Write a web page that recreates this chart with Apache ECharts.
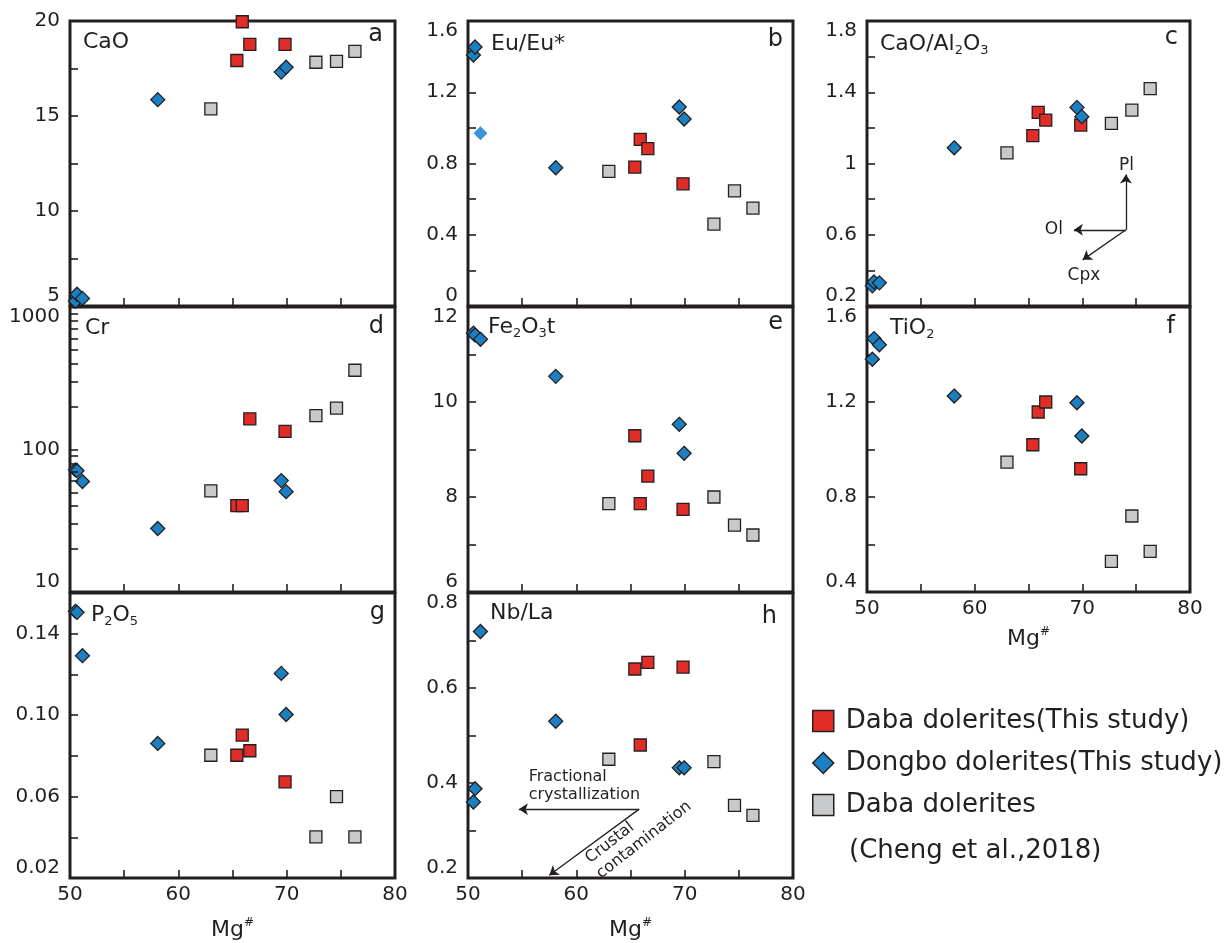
<!DOCTYPE html>
<html><head><meta charset="utf-8">
<script src="https://cdn.jsdelivr.net/npm/echarts@6/dist/echarts.min.js"></script>
<style>html,body{margin:0;padding:0;background:#fff}#c{width:1225px;height:943px}</style>
</head><body><div id="c"></div>
<script>
// ---------------- data ----------------
const NAME_DABA = 'Daba dolerites(This study)';
const NAME_DONGBO = 'Dongbo dolerites(This study)';
const NAME_CHENG = 'Daba dolerites (Cheng et al.,2018)';

// Mg# of the samples (x values)
const mgDaba   = [65.4, 65.9, 66.6, 69.85];
const mgDongbo = [50.5, 50.65, 51.15, 58.1, 69.5, 69.95];
const mgCheng  = [63.0, 72.7, 74.6, 76.3];

// a: CaO
const caoDaba   = [17.92, 19.96, 18.77, 18.77];
const caoDongbo = [5.25, 5.62, 5.4, 15.86, 17.31, 17.57];
const caoCheng  = [15.37, 17.83, 17.87, 18.4];
// b: Eu/Eu*
const euDaba   = [0.78, 0.936, 0.884, 0.686];
const euDongbo = [1.409, 1.454, 0.97, 0.776, 1.117, 1.05];
const euCheng  = [0.756, 0.46, 0.646, 0.55];
// c: CaO/Al2O3
const caAlDaba   = [1.156, 1.287, 1.244, 1.216];
const caAlDongbo = [0.313, 0.335, 0.33, 1.088, 1.315, 1.263];
const caAlCheng  = [1.06, 1.225, 1.30, 1.42];
// d: Cr (log scale)
const crDaba   = [40.4, 40.4, 164, 134];
const crDongbo = [72, 71, 59.6, 27.9, 60.5, 50.6];
const crCheng  = [51.2, 173, 195, 360];
const crMinorTicks = [20, 30, 40, 50, 60, 70, 80, 90, 200, 300, 400, 500, 600, 700, 800, 900];
// e: Fe2O3t
const feDaba   = [9.29, 7.86, 8.44, 7.74];
const feDongbo = [11.45, 11.41, 11.32, 10.54, 9.53, 8.92];
const feCheng  = [7.86, 8.0, 7.41, 7.20];
// f: TiO2
const tiDaba   = [1.02, 1.158, 1.2, 0.919];
const tiDongbo = [1.38, 1.467, 1.441, 1.225, 1.197, 1.057];
const tiCheng  = [0.947, 0.529, 0.72, 0.571];
// g: P2O5
const pDaba   = [0.0803, 0.0902, 0.0825, 0.0672];
const pDongbo = [0.151, 0.1505, 0.1292, 0.0861, 0.1205, 0.1003];
const pCheng  = [0.0803, 0.0402, 0.060, 0.0402];
// h: Nb/La
const nbDaba   = [0.64, 0.48, 0.654, 0.644];
const nbDongbo = [0.36, 0.388, 0.719, 0.53, 0.432, 0.432];
const nbCheng  = [0.45, 0.445, 0.353, 0.332];

// annotation arrows (data units) and their labels
const arrowsC = [
  [[74.05, 0.628], [74.05, 0.938]],
  [[74.05, 0.628], [69.22, 0.628]],
  [[74.05, 0.628], [70.03, 0.459]]
];
const labelsC = [['Pl', 74.1, 0.989], ['Ol', 67.36, 0.628], ['Cpx', 70.15, 0.369]];
const arrowsH = [
  [[65.8, 0.345], [54.7, 0.345]],
  [[65.8, 0.345], [57.5, 0.206]]
];
const labelsH = [
  ['Fractional', 55.6, 0.413, 0, 'left'],
  ['crystallization', 55.6, 0.375, 0, 'left'],
  ['Crustal', 63.1, 0.274, 38, 'center'],
  ['contamination', 66.25, 0.28, 38, 'center']
];

// ---------------- styling / layout ----------------
const ink = '#231f20';
const FONT = "'DejaVu Sans', sans-serif";
const RED = '#e22c27', BLUE = '#1b80c2', GRAY = '#c8c9cb', LIGHTBLUE = '#3a93d6';

const cols = [{left: 70, width: 325}, {left: 468, width: 325}, {left: 867, width: 323}];
const rows = [{top: 21, height: 285}, {top: 307, height: 285}, {top: 593, height: 285}];

const fmt1 = v => String(+v.toFixed(1));
const panels = [
  {col:0,row:0,title:'{m|CaO}',tx:13,ty:21,letter:'a',lx:12,ly:14,type:'value',min:5,max:20,interval:5,minor:2,fmt:v=>String(v),maxAlign:'middle',
   vals:[caoDaba,caoDongbo,caoCheng]},
  {col:1,row:0,title:'{m|Eu/Eu*}',tx:23,ty:23,letter:'b',lx:10,ly:19,type:'value',min:0,max:1.6,interval:0.4,minor:2,fmt:fmt1,
   vals:[euDaba,euDongbo,euCheng],light:2},
  {col:2,row:0,title:'{m|CaO/Al}{s|2}{m|O}{s|3}',tx:13,ty:23,letter:'c',lx:12,ly:17,type:'value',min:0.2,max:1.8,interval:0.2,minor:0,
   fmt:v=>(Math.round((v-0.2)/0.2)%2===0?fmt1(v):''),vals:[caAlDaba,caAlDongbo,caAlCheng],arrows:arrowsC,labels:labelsC,lfs:17},
  {col:0,row:1,title:'{m|Cr}',tx:15,ty:21,letter:'d',lx:11,ly:20,type:'log',min:10,max:1000,fmt:v=>String(v),
   vals:[crDaba,crDongbo,crCheng],logTicks:crMinorTicks},
  {col:1,row:1,title:'{m|Fe}{s|2}{m|O}{s|3}{m|t}',tx:20,ty:20,letter:'e',lx:10,ly:16,type:'value',min:6,max:12,interval:2,minor:2,fmt:v=>String(v),
   vals:[feDaba,feDongbo,feCheng]},
  {col:2,row:1,title:'{m|TiO}{s|2}',tx:23,ty:21,letter:'f',lx:15,ly:20,type:'value',min:0.4,max:1.6,interval:0.4,minor:2,fmt:fmt1,
   vals:[tiDaba,tiDongbo,tiCheng],bottom:true,nameGap:34},
  {col:0,row:2,title:'{m|P}{s|2}{m|O}{s|5}',tx:21,ty:22,letter:'g',lx:10,ly:20,type:'value',min:0.02,max:0.16,interval:0.02,minor:0,
   fmt:v=>(Math.round((v-0.02)/0.02)%2===0?v.toFixed(2):''),vals:[pDaba,pDongbo,pCheng],bottom:true,nameGap:39},
  {col:1,row:2,title:'{m|Nb/La}',tx:22,ty:20,letter:'h',lx:16,ly:24,type:'value',min:0.2,max:0.8,interval:0.2,minor:2,fmt:fmt1,
   vals:[nbDaba,nbDongbo,nbCheng],bottom:true,nameGap:39,arrows:arrowsH,labels:labelsH,lfs:16}
];

const tickStyle = {color: ink, width: 1.6};
const grids = [], xAxes = [], yAxes = [], series = [], graphics = [];

panels.forEach((p, i) => {
  const c = cols[p.col], r = rows[p.row];
  grids.push({left: c.left, top: r.top, width: c.width, height: r.height, show: true,
    borderColor: ink, borderWidth: 3, backgroundColor: 'transparent', containLabel: false, outerBoundsMode: 'none'});
  xAxes.push({gridIndex: i, type: 'value', min: 50, max: 80, interval: 10,
    axisLine: {show: false}, splitLine: {show: false},
    axisTick: {show: true, inside: true, length: 8, lineStyle: tickStyle},
    minorTick: {show: true, splitNumber: 2, length: 8, lineStyle: tickStyle},
    axisLabel: {show: !!p.bottom, margin: 7, fontFamily: FONT, fontSize: 20, color: ink},
    name: p.bottom ? '{m|Mg}{p|#}' : '', nameLocation: 'middle', nameGap: p.nameGap || 34,
    nameTextStyle: {rich: {m: {fontFamily: FONT, fontSize: 22, color: ink, lineHeight: 26},
                           p: {fontFamily: FONT, fontSize: 12, color: ink, lineHeight: 12, verticalAlign: 'top'}}}
  });
  const y = {gridIndex: i, type: p.type, min: p.min, max: p.max,
    axisLine: {show: false}, splitLine: {show: false},
    axisTick: {show: true, inside: true, length: 8, lineStyle: tickStyle},
    axisLabel: {margin: 10, fontFamily: FONT, fontSize: 20, color: ink, formatter: p.fmt,
      verticalAlignMaxLabel: p.maxAlign || 'top', verticalAlignMinLabel: 'bottom'}};
  if (p.type === 'log') {
    y.logBase = 10;
    y.splitNumber = 2;
    y.minorTick = {show: false};
  } else {
    y.interval = p.interval;
    y.minorTick = {show: p.minor > 0, splitNumber: p.minor || 2, length: 8, lineStyle: tickStyle};
  }
  yAxes.push(y);

  const [vRed, vBlue, vGray] = p.vals;
  const base = {type: 'scatter', xAxisIndex: i, yAxisIndex: i, animation: false, silent: true};
  series.push(Object.assign({}, base, {name: NAME_CHENG, symbol: 'rect', symbolSize: 12,
    itemStyle: {color: GRAY, borderColor: ink, borderWidth: 1.3, opacity: 1},
    data: mgCheng.map((x, k) => [x, vGray[k]])}));
  series.push(Object.assign({}, base, {name: NAME_DABA, symbol: 'rect', symbolSize: 12,
    itemStyle: {color: RED, borderColor: ink, borderWidth: 1.3, opacity: 1},
    data: mgDaba.map((x, k) => [x, vRed[k]])}));
  series.push(Object.assign({}, base, {name: NAME_DONGBO, symbol: 'diamond', symbolSize: 14,
    itemStyle: {color: BLUE, borderColor: ink, borderWidth: 1.3, opacity: 1},
    data: mgDongbo.map((x, k) => (k === p.light
      ? {value: [x, vBlue[k]], itemStyle: {color: LIGHTBLUE, borderWidth: 0}}
      : [x, vBlue[k]]))}));

  if (p.logTicks) {
    // minor ticks of the log axis (20..90, 200..900), placed through the axis scale
    series.push(Object.assign({}, base, {name: 'logTicks' + i, data: [],
      markLine: {silent: true, animation: false, symbol: ['none', 'none'],
        lineStyle: {color: ink, width: 1.6, type: 'solid'}, label: {show: false},
        emphasis: {disabled: true},
        data: p.logTicks.map(v => [{coord: [50, v]}, {coord: [50.75, v]}])}}));
  }

  if (p.arrows) {
    series.push(Object.assign({}, base, {name: 'annot' + i, data: [],
      markLine: {silent: true, animation: false, symbol: ['none', 'arrow'], symbolSize: 9,
        lineStyle: {color: ink, width: 1.3, type: 'solid'}, label: {show: false},
        emphasis: {disabled: true},
        data: p.arrows.map(a => [{coord: a[0]}, {coord: a[1]}])},
      markPoint: {silent: true, animation: false, symbol: 'circle', symbolSize: 1,
        itemStyle: {color: 'rgba(0,0,0,0)'},
        data: p.labels.map(l => ({coord: [l[1], l[2]], name: l[0],
          label: {show: true, position: 'inside', formatter: l[0], rotate: l[3] || 0,
            align: l[4] || 'center', verticalAlign: 'middle',
            fontFamily: FONT, fontSize: p.lfs, color: ink}}))}
    }));
  }

  graphics.push({type: 'text', x: c.left + p.tx, y: r.top + p.ty, silent: true,
    style: {text: p.title, verticalAlign: 'middle', align: 'left', fill: ink,
      rich: {m: {fontFamily: FONT, fontSize: 22, lineHeight: 26, fill: ink, color: ink},
             s: {fontFamily: FONT, fontSize: 13, lineHeight: 12, verticalAlign: 'bottom', fill: ink, color: ink}}}});
  graphics.push({type: 'text', x: c.left + c.width - p.lx, y: r.top + p.ly, silent: true,
    style: {text: p.letter, fontFamily: FONT, fontSize: 24, fill: ink, align: 'right', verticalAlign: 'middle'}});
});

graphics.push({type: 'text', x: 849, y: 851, silent: true,
  style: {text: '(Cheng et al.,2018)', fontFamily: FONT, fontSize: 26, fill: ink, align: 'left', verticalAlign: 'middle'}});

const chart = echarts.init(document.getElementById('c'), null, {renderer: 'canvas'});
chart.setOption({
  animation: false,
  backgroundColor: '#fff',
  textStyle: {fontFamily: FONT},
  grid: grids, xAxis: xAxes, yAxis: yAxes, series: series,
  legend: {orient: 'vertical', left: 812, top: 707, padding: 0, itemWidth: 21, itemHeight: 21, itemGap: 14,
    selectedMode: false, data: [NAME_DABA, NAME_DONGBO, NAME_CHENG],
    formatter: n => (n === NAME_CHENG ? 'Daba dolerites' : n),
    itemStyle: {borderColor: ink, borderWidth: 1.5},
    textStyle: {fontFamily: FONT, fontSize: 26, color: ink, lineHeight: 28, padding: [0, 0, 0, 7]}},
  graphic: graphics
});
</script>
</body></html>
